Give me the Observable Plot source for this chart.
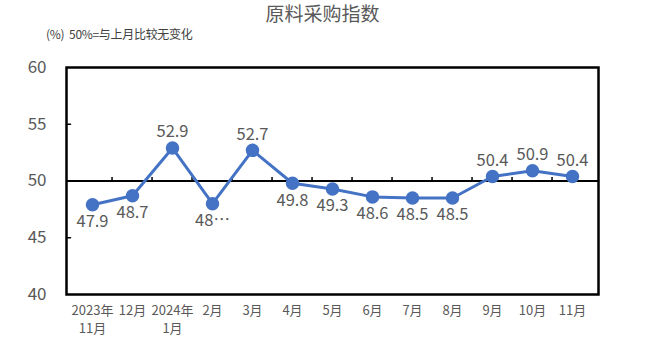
<!DOCTYPE html>
<html><head><meta charset="utf-8">
<script src="https://cdn.jsdelivr.net/npm/d3@7"></script>
<script src="https://cdn.jsdelivr.net/npm/@observablehq/plot@0.6"></script>
<style>
body{margin:0;background:#fff;font-family:"Noto Sans CJK SC","Noto Sans",sans-serif;}
#title{height:26px;line-height:26px;text-align:center;font-size:19px;color:#595959;width:645px;}
#sub{height:16px;line-height:16px;font-size:12px;color:#404040;padding-left:46px;white-space:pre;letter-spacing:-0.3px;}
</style></head>
<body>
<div id="title">原料采购指数</div>
<div id="sub">(%)  50%=与上月比较无变化</div>
<div id="chart"></div>
<script>
const months = ["2023年\n11月","12月","2024年\n1月","2月","3月","4月","5月","6月","7月","8月","9月","10月","11月"];
const values = [47.9,48.7,52.9,48.0,52.7,49.8,49.3,48.6,48.5,48.5,50.4,50.9,50.4];
const valueLabels = ["47.9","48.7","52.9","48…","52.7","49.8","49.3","48.6","48.5","48.5","50.4","50.9","50.4"];
const labelSide = ["below","below","above","below","above","below","below","below","below","below","above","above","above"];
const yTicks = [40,45,50,55,60];

const data = months.map((m,i)=>({m, v: values[i], t: valueLabels[i], s: labelSide[i]}));
const W = 645, H = 301, mL = 66, mR = 47, mT = 25, mB = 49;
const step = (W - mL - mR) / months.length;
const tickShape = {draw(ctx, l){ctx.moveTo(0,0); ctx.lineTo(0,-l);}};

const chart = Plot.plot({
  width: W, height: H,
  marginLeft: mL, marginRight: mR, marginTop: mT, marginBottom: mB,
  style: {fontFamily: '"Noto Sans CJK SC","Noto Sans",sans-serif', color: "#595959", background: "#fff"},
  x: {type: "point", domain: months, padding: 0.5},
  y: {domain: [40, 60]},
  marks: [
    Plot.axisY(yTicks, {tickSize: 0, tickPadding: 20, fontSize: 17, fill: "#595959", label: null}),
    Plot.axisX(months, {tickSize: 0, tickPadding: 8, fontSize: 13, fill: "#595959", lineHeight: 1.35, label: null}),
    Plot.vector([45, 55], {y: d => d, frameAnchor: "left", length: 4, rotate: 90, anchor: "start", shape: tickShape, stroke: "#000", strokeWidth: 1.5}),
    Plot.ruleY([50], {stroke: "#000", strokeWidth: 2}),
    Plot.ruleX(months.slice(1), {x: d => d, y1: 50, y2: 50.3, dx: -step/2, stroke: "#000", strokeWidth: 1.5}),
    Plot.frame({stroke: "#000", strokeWidth: 2.5}),
    Plot.line(data, {x: "m", y: "v", stroke: "#4472C4", strokeWidth: 3}),
    Plot.dot(data, {x: "m", y: "v", r: 6, fill: "#4472C4", stroke: "#4472C4"}),
    Plot.text(data.filter(d => d.s === "above"), {x: "m", y: "v", text: "t", dy: -16, fontSize: 16.5, fill: "#595959"}),
    Plot.text(data.filter(d => d.s === "below"), {x: "m", y: "v", text: "t", dy: 17, fontSize: 16.5, fill: "#595959"})
  ]
});
document.getElementById("chart").appendChild(chart);
</script>
</body></html>
